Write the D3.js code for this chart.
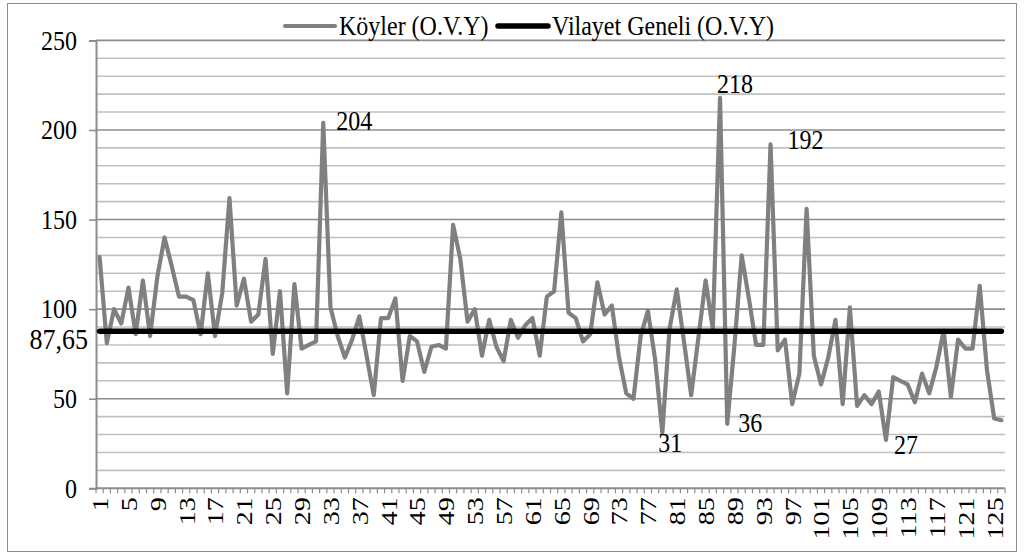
<!DOCTYPE html>
<html>
<head>
<meta charset="utf-8">
<script src="https://cdn.jsdelivr.net/npm/d3@7"></script>
<style>
  html, body { margin: 0; padding: 0; background: #fff; }
  svg { display: block; }
  text { font-family: "Liberation Serif", "Times New Roman", serif; fill: #000; }
</style>
</head>
<body>
<svg id="chart" width="1024" height="556"></svg>
<script>
// ---- data ----
const categories = d3.range(1, 127);
const koylerValues = [
  129, 81, 100, 92, 112, 86, 116, 85, 118, 140,
  124, 107, 107, 105, 86, 120, 85, 109, 162, 102,
  117, 93, 97, 128, 75, 110, 53, 114, 78, 80,
  82, 204, 101, 85, 73, 83, 96, 74, 52, 95,
  95, 106, 60, 85, 82, 65, 79, 80, 78, 147,
  128, 93, 100, 74, 94, 79, 71, 94, 84, 91,
  95, 74, 107, 110, 154, 98, 95, 82, 86, 115,
  97, 102, 73, 53, 50, 85, 99, 72, 31, 89,
  111, 82, 52, 84, 116, 89, 218, 36, 80, 130,
  106, 80, 80, 192, 77, 83, 47, 64, 156, 74,
  58, 73, 94, 47, 101, 46, 52, 47, 54, 27,
  62, 60, 58, 48, 64, 53, 68, 88, 51, 83,
  78, 78, 113, 66, 39, 38
];
const vilayetValue = 87.65;
const vilayetLabel = "87,65";
const seriesNames = ["Köyler (O.V.Y)", "Vilayet Geneli (O.V.Y)"];
const yTicks = [0, 50, 100, 150, 200, 250];
const yMinorTicks = d3.range(10, 251, 10).filter(v => v % 50 !== 0);
const xTickLabels = categories.filter(c => (c - 1) % 4 === 0);
const labelledCategories = [32, 87, 94, 79, 88, 110];

// ---- layout / styles (kept apart from data) ----
const labelOffsets = { 32: [13, 7], 87: [-3, -5], 94: [17, 5], 79: [-4, 19], 88: [11, 8], 110: [8, 14] };
const plot = { left: 96, right: 1005, top: 40.4, bottom: 488.3 };
const FONT = 24;
const STRETCH = 1.17;   // text in the reference is drawn taller than wide

const svg = d3.select("#chart");

// helper: text placed at (x,y) with vertical stretch, optional rotation
function addText(parent, x, y, str, opts = {}) {
  const g = parent.append("g")
    .attr("transform", `translate(${x},${y}) scale(1,${STRETCH})` + (opts.rotate ? ` rotate(${opts.rotate})` : ""));
  const t = g.append("text")
    .attr("x", 0).attr("y", 0)
    .attr("font-size", opts.size || FONT)
    .attr("text-anchor", opts.anchor || "start")
    .text(str);
  if (opts.dy) t.attr("dy", opts.dy);
  return t;
}

// outer frame
svg.append("rect").attr("x", 7.5).attr("y", 3.5).attr("width", 1009).attr("height", 548)
  .attr("fill", "#fff").attr("stroke", "#8c8c8c").attr("stroke-width", 1);

const x = d3.scaleBand().domain(categories).range([plot.left, plot.right]).paddingInner(0).paddingOuter(0);
const y = d3.scaleLinear().domain([0, 250]).range([plot.bottom, plot.top]);
const cx = c => x(c) + x.bandwidth() / 2;

// minor gridlines
svg.append("g").selectAll("line").data(yMinorTicks).join("line")
  .attr("x1", plot.left).attr("x2", plot.right)
  .attr("y1", d => y(d)).attr("y2", d => y(d))
  .attr("stroke", "#c0c0c0").attr("stroke-width", 1.6);

// major gridlines
svg.append("g").selectAll("line").data(yTicks.filter(d => d > 0)).join("line")
  .attr("x1", plot.left).attr("x2", plot.right)
  .attr("y1", d => y(d)).attr("y2", d => y(d))
  .attr("stroke", "#8c8c8c").attr("stroke-width", 1.6);

// y axis (line + ticks through d3.axis, labels with stretch)
const yAxis = d3.axisLeft(y).tickValues(yTicks).tickSize(7).tickFormat("");
const gy = svg.append("g").attr("transform", `translate(${plot.left},0)`).call(yAxis);
gy.select(".domain").attr("stroke", "#8c8c8c").attr("stroke-width", 2);
gy.selectAll(".tick line").attr("stroke", "#8c8c8c").attr("stroke-width", 1.6);
const gyl = svg.append("g");
yTicks.forEach(v => addText(gyl, plot.left - 19, y(v), d3.format("d")(v), { anchor: "end", dy: "0.33em" }));

// x axis: ticks between categories
const bw = x.bandwidth();
const boundaries = d3.range(0, categories.length + 1).map(i => plot.left + i * bw);
const gx = svg.append("g");
gx.append("line").attr("x1", plot.left).attr("x2", plot.right)
  .attr("y1", plot.bottom).attr("y2", plot.bottom)
  .attr("stroke", "#8c8c8c").attr("stroke-width", 2);
gx.selectAll("line.tk").data(boundaries).join("line").attr("class", "tk")
  .attr("x1", d => d).attr("x2", d => d)
  .attr("y1", plot.bottom).attr("y2", plot.bottom + 5)
  .attr("stroke", "#8c8c8c").attr("stroke-width", 1.2);
xTickLabels.forEach(c => addText(gx, cx(c), plot.bottom + 9, String(c), { anchor: "end", rotate: -90, dy: "0.35em" }));

// series line (Köyler)
const line = d3.line().x((d, i) => cx(categories[i])).y(d => y(d));
svg.append("path").datum(koylerValues)
  .attr("d", line).attr("fill", "none")
  .attr("stroke", "#808080").attr("stroke-width", 4.2).attr("stroke-linejoin", "round").attr("stroke-linecap", "round");

// Vilayet line
svg.append("path").datum(categories.map(() => vilayetValue))
  .attr("d", line).attr("fill", "none")
  .attr("stroke", "#000").attr("stroke-width", 5.5).attr("stroke-linecap", "round");

// Vilayet data label
addText(svg, plot.left - 8, y(vilayetValue) + 8, vilayetLabel, { anchor: "end", dy: "0.33em", size: 26 });

// data labels
const gl = svg.append("g");
labelledCategories.forEach(c => {
  addText(gl, cx(c) + labelOffsets[c][0], y(koylerValues[c - 1]) + labelOffsets[c][1], String(koylerValues[c - 1]));
});

// legend
const legend = svg.append("g");
const legendItems = [
  { name: seriesNames[0], color: "#808080", w: 4.2, x0: 285 },
  { name: seriesNames[1], color: "#000", w: 5.5, x0: 498 }
];
legendItems.forEach(it => {
  legend.append("line").attr("x1", it.x0).attr("x2", it.x0 + 50).attr("y1", 26).attr("y2", 26)
    .attr("stroke", it.color).attr("stroke-width", it.w).attr("stroke-linecap", "round");
  addText(legend, it.x0 + 54, 26, it.name, { dy: "0.33em" });
});
</script>
</body>
</html>
